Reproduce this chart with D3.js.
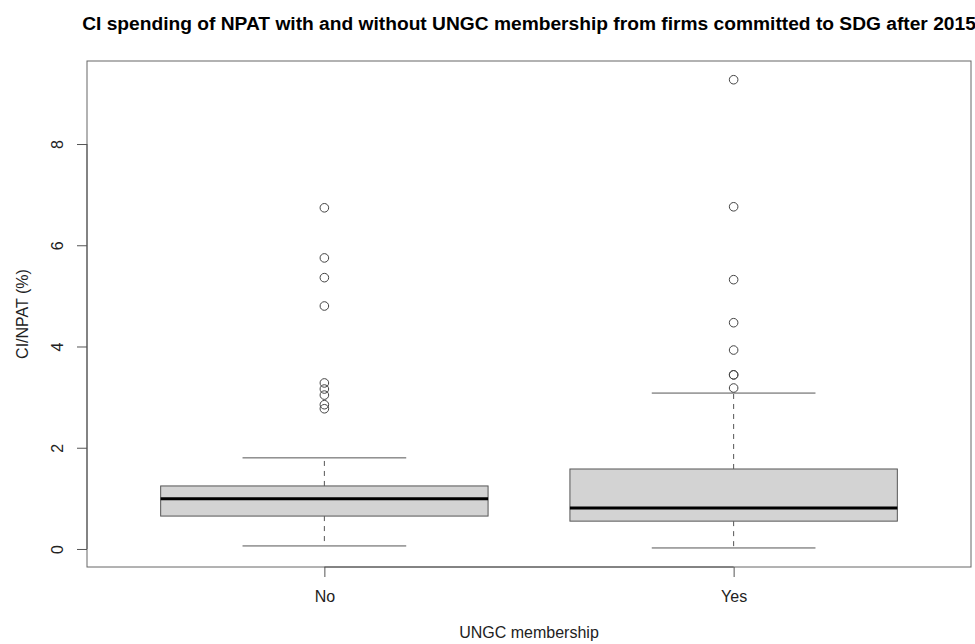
<!DOCTYPE html>
<html>
<head>
<meta charset="utf-8">
<script src="https://cdn.jsdelivr.net/npm/d3@7"></script>
<style>
  body { margin: 0; background: #fff; }
  text { font-family: "Liberation Sans", Arial, sans-serif; }
</style>
</head>
<body>
<svg id="chart" width="975" height="644"></svg>
<script>
// groups and five-number summaries
var groups = ['No', 'Yes']
var whiskerLow = [0.06, 0.02]
var q1 = [0.65, 0.55]
var median = [0.99, 0.81]
var q3 = [1.245, 1.58]
var whiskerHigh = [1.80, 3.08]
var outliersNo = [6.74, 5.75, 5.36, 4.80, 3.28, 3.16, 3.04, 2.85, 2.77]
var outliersYes = [9.27, 6.76, 5.32, 4.47, 3.93, 3.44, 3.44, 3.18]
var yTicks = [0, 2, 4, 6, 8]

var margin = {top: 61, right: 4, bottom: 77, left: 87}
var width = 975 - margin.left - margin.right
var height = 644 - margin.top - margin.bottom

var svg = d3.select('#chart')
var g = svg.append('g')
  .attr('transform', 'translate(' + margin.left + ',' + margin.top + ')')

// R style: positions 1..n, box width 0.8, 4% padding
var x = d3.scaleLinear().domain([0.42, 2.58]).range([0, width])
var y = d3.scaleLinear().domain([-0.356, 9.64]).range([height, 0])

var boxes = groups.map(function (name, i) {
  return {
    name: name, pos: i + 1,
    lo: whiskerLow[i], q1: q1[i], med: median[i], q3: q3[i], hi: whiskerHigh[i],
    out: i === 0 ? outliersNo : outliersYes
  }
})

var bw = x(1.4) - x(1)   // half box width
var cw = x(1.2) - x(1)   // half staple width

var b = g.selectAll('.box').data(boxes).enter().append('g').attr('class', 'box')

// whiskers
b.append('line')
  .attr('x1', function (d) { return x(d.pos) }).attr('x2', function (d) { return x(d.pos) })
  .attr('y1', function (d) { return y(d.q3) }).attr('y2', function (d) { return y(d.hi) })
  .attr('stroke', '#555').attr('stroke-dasharray', '5,5')
b.append('line')
  .attr('x1', function (d) { return x(d.pos) }).attr('x2', function (d) { return x(d.pos) })
  .attr('y1', function (d) { return y(d.q1) }).attr('y2', function (d) { return y(d.lo) })
  .attr('stroke', '#555').attr('stroke-dasharray', '5,5')

// staples
b.selectAll('.staple').data(function (d) { return [d.lo, d.hi].map(function (v) { return {pos: d.pos, v: v} }) })
  .enter().append('line')
  .attr('x1', function (d) { return x(d.pos) - cw }).attr('x2', function (d) { return x(d.pos) + cw })
  .attr('y1', function (d) { return y(d.v) }).attr('y2', function (d) { return y(d.v) })
  .attr('stroke', '#555')

// box
b.append('rect')
  .attr('x', function (d) { return x(d.pos) - bw })
  .attr('width', 2 * bw)
  .attr('y', function (d) { return y(d.q3) })
  .attr('height', function (d) { return y(d.q1) - y(d.q3) })
  .attr('fill', '#d3d3d3').attr('stroke', '#555')

// median
b.append('line')
  .attr('x1', function (d) { return x(d.pos) - bw }).attr('x2', function (d) { return x(d.pos) + bw })
  .attr('y1', function (d) { return y(d.med) }).attr('y2', function (d) { return y(d.med) })
  .attr('stroke', '#000').attr('stroke-width', 3)

// outliers
b.selectAll('circle').data(function (d) { return d.out.map(function (v) { return {pos: d.pos, v: v} }) })
  .enter().append('circle')
  .attr('cx', function (d) { return x(d.pos) })
  .attr('cy', function (d) { return y(d.v) })
  .attr('r', 4.3)
  .attr('fill', 'none').attr('stroke', '#444').attr('stroke-width', 1)

// frame
g.append('rect').attr('width', width).attr('height', height)
  .attr('fill', 'none').attr('stroke', '#666')

// y axis
var yAxis = g.append('g')
  .call(d3.axisLeft(y).tickValues(yTicks).tickSize(10).tickSizeOuter(0).tickFormat(d3.format('d')))
yAxis.select('.domain').attr('d', 'M0,' + y(0) + 'V' + y(8)).attr('stroke', '#555')
yAxis.selectAll('.tick line').attr('stroke', '#555')
yAxis.selectAll('.tick text')
  .attr('x', 0).attr('dy', 0)
  .attr('transform', 'translate(-28,0) rotate(-90)')
  .attr('text-anchor', 'middle')
  .attr('dominant-baseline', 'middle')
  .style('font-size', '16px').attr('fill', '#222')

// x axis
var xAxis = g.append('g')
  .attr('transform', 'translate(0,' + height + ')')
  .call(d3.axisBottom(x).tickValues([1, 2]).tickSize(10).tickSizeOuter(0)
    .tickFormat(function (d) { return groups[d - 1] }))
xAxis.select('.domain').attr('d', 'M' + x(1) + ',0H' + x(2)).attr('stroke', '#555')
xAxis.selectAll('.tick line').attr('stroke', '#555')
xAxis.selectAll('.tick text').attr('y', 24).style('font-size', '16px').attr('fill', '#222')

// titles
svg.append('text')
  .attr('x', margin.left + width / 2).attr('y', 30)
  .attr('text-anchor', 'middle')
  .style('font-size', '19.2px').style('font-weight', 'bold')
  .text('CI spending of NPAT with and without UNGC membership from firms committed to SDG after 2015')

svg.append('text')
  .attr('x', margin.left + width / 2).attr('y', 638)
  .attr('text-anchor', 'middle')
  .style('font-size', '16px').attr('fill', '#222')
  .text('UNGC membership')

svg.append('text')
  .attr('transform', 'translate(28,' + (margin.top + height / 2) + ') rotate(-90)')
  .attr('text-anchor', 'middle')
  .style('font-size', '16px').attr('fill', '#222')
  .text('CI/NPAT (%)')
</script>
</body>
</html>
